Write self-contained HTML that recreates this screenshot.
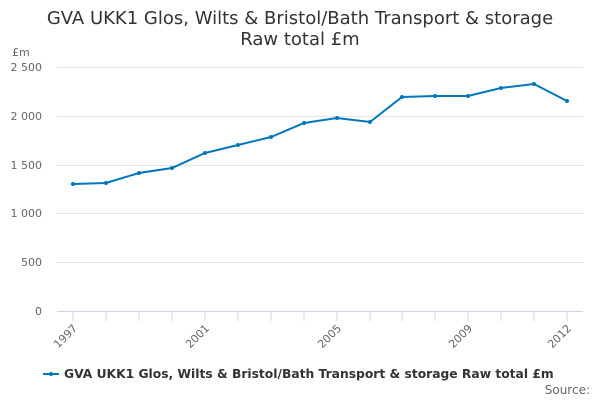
<!DOCTYPE html><html><head><style>body{margin:0;background:#fff}</style></head><body>
<svg width="600" height="400" xmlns="http://www.w3.org/2000/svg" font-family="DejaVu Sans, sans-serif">
<text x="300" y="24" text-anchor="middle" font-size="18" fill="#333">GVA UKK1 Glos, Wilts &amp; Bristol/Bath Transport &amp; storage</text>
<text x="300" y="45" text-anchor="middle" font-size="18" fill="#333">Raw total £m</text>
<text x="12" y="56" font-size="11" fill="#666">£m</text>
<g stroke="#e6e6e6" stroke-width="1">
<line x1="57" x2="583" y1="67.5" y2="67.5"/><line x1="57" x2="583" y1="116.5" y2="116.5"/><line x1="57" x2="583" y1="165.5" y2="165.5"/><line x1="57" x2="583" y1="213.5" y2="213.5"/><line x1="57" x2="583" y1="262.5" y2="262.5"/></g>
<g font-size="11" fill="#666" text-anchor="end">
<text x="42" y="71">2 500</text><text x="42" y="120">2 000</text><text x="42" y="169">1 500</text><text x="42" y="217">1 000</text><text x="42" y="266">500</text><text x="42" y="315">0</text></g>
<line x1="57" x2="583" y1="311.5" y2="311.5" stroke="#ccd6eb"/>
<g stroke="#ccd6eb">
<line x1="73" x2="73" y1="311" y2="321"/><line x1="106" x2="106" y1="311" y2="321"/><line x1="139" x2="139" y1="311" y2="321"/><line x1="172" x2="172" y1="311" y2="321"/><line x1="205" x2="205" y1="311" y2="321"/><line x1="238" x2="238" y1="311" y2="321"/><line x1="271" x2="271" y1="311" y2="321"/><line x1="304" x2="304" y1="311" y2="321"/><line x1="337" x2="337" y1="311" y2="321"/><line x1="370" x2="370" y1="311" y2="321"/><line x1="402" x2="402" y1="311" y2="321"/><line x1="435" x2="435" y1="311" y2="321"/><line x1="468" x2="468" y1="311" y2="321"/><line x1="501" x2="501" y1="311" y2="321"/><line x1="534" x2="534" y1="311" y2="321"/><line x1="567" x2="567" y1="311" y2="321"/></g>
<g font-size="11" fill="#666" text-anchor="end">
<text transform="translate(78,329) rotate(-45)">1997</text>
<text transform="translate(210,329) rotate(-45)">2001</text>
<text transform="translate(342,329) rotate(-45)">2005</text>
<text transform="translate(473,329) rotate(-45)">2009</text>
<text transform="translate(572,329) rotate(-45)">2012</text></g>
<polyline fill="none" stroke="#0077bb" stroke-width="2" points="73,184 106,183 139,173 172,168 205,153 238,145 271,137 304,123 337,118 370,122 402,97 435,96 468,96 501,88 534,84 567,101"/>
<g fill="#0077bb">
<circle cx="73" cy="184" r="2"/><circle cx="106" cy="183" r="2"/><circle cx="139" cy="173" r="2"/><circle cx="172" cy="168" r="2"/><circle cx="205" cy="153" r="2"/><circle cx="238" cy="145" r="2"/><circle cx="271" cy="137" r="2"/><circle cx="304" cy="123" r="2"/><circle cx="337" cy="118" r="2"/><circle cx="370" cy="122" r="2"/><circle cx="402" cy="97" r="2"/><circle cx="435" cy="96" r="2"/><circle cx="468" cy="96" r="2"/><circle cx="501" cy="88" r="2"/><circle cx="534" cy="84" r="2"/><circle cx="567" cy="101" r="2"/></g>
<line x1="43" x2="59" y1="374" y2="374" stroke="#0077bb" stroke-width="2"/><circle cx="51" cy="374" r="2" fill="#0077bb"/>
<text x="64" y="378" font-size="12.3" font-weight="bold" fill="#333">GVA UKK1 Glos, Wilts &amp; Bristol/Bath Transport &amp; storage Raw total £m</text>
<text x="590" y="394" text-anchor="end" font-size="12" fill="#666">Source:</text>
</svg></body></html>
